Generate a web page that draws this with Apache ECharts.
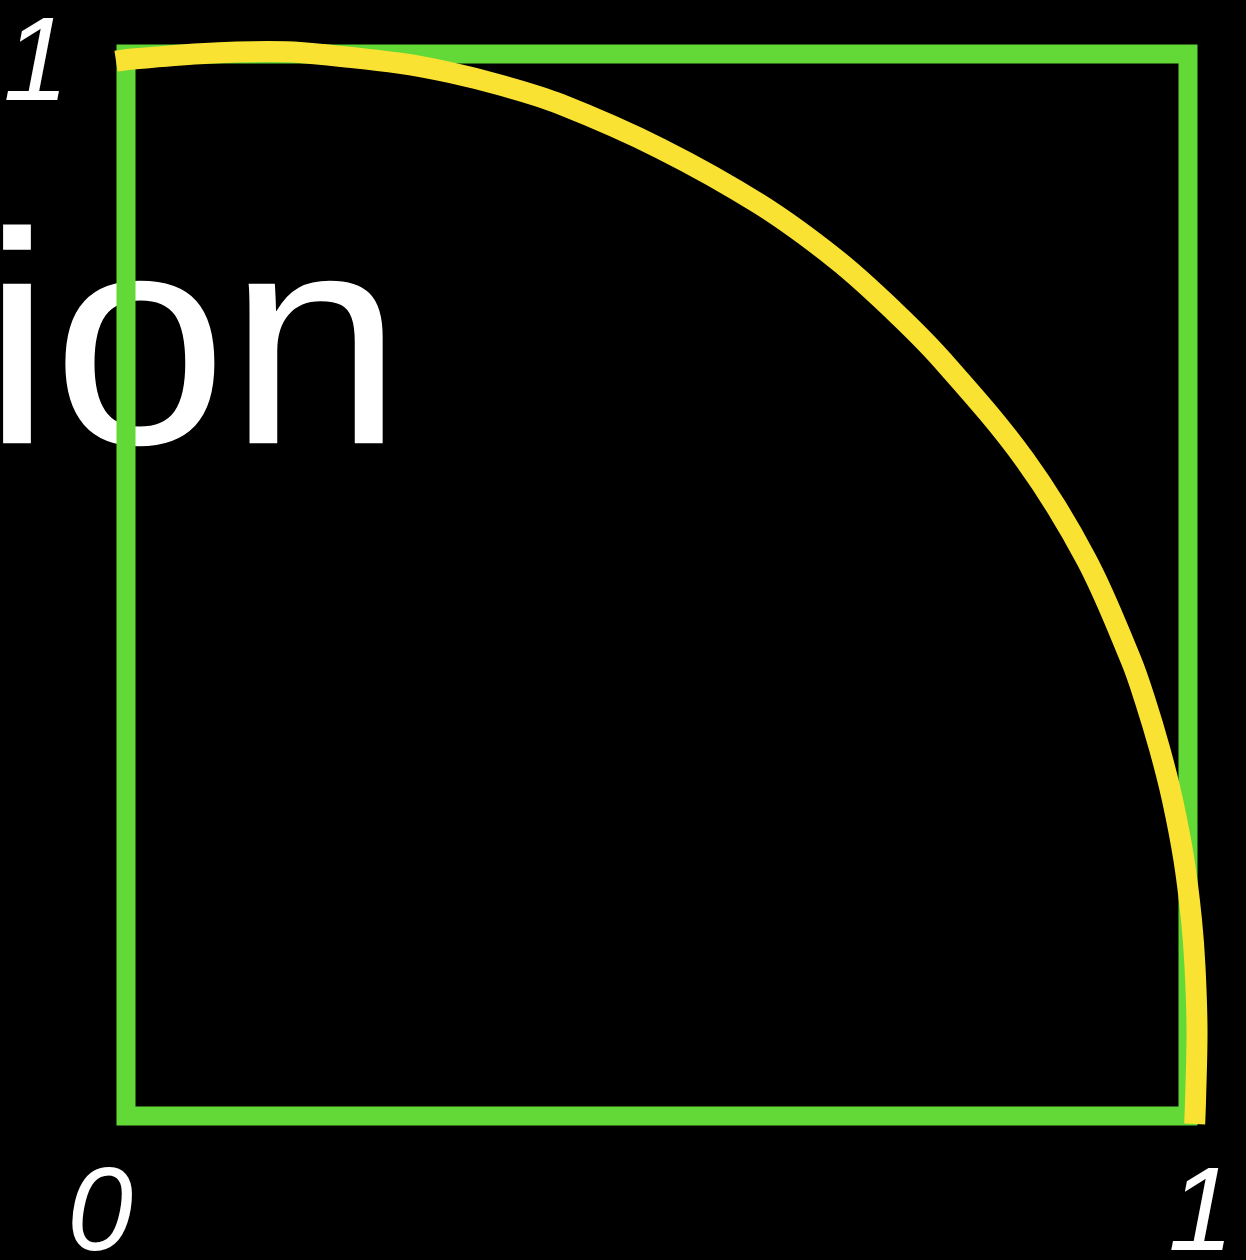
<!DOCTYPE html>
<html>
<head>
<meta charset="utf-8">
<script src="https://cdn.jsdelivr.net/npm/echarts@6/dist/echarts.min.js"></script>
<style>
html,body{margin:0;padding:0;background:#000;}
#chart{width:1246px;height:1260px;}
</style>
</head>
<body>
<div id="chart"></div>
<script>
// Curve (centerline), in unit-square coordinates
const curveX = [-0.0094, 0.0066, 0.0697, 0.1328, 0.1638, 0.2580, 0.3051, 0.3522, 0.4087, 0.5028, 0.5970, 0.6695, 0.7222, 0.7684, 0.8465, 0.9046, 0.9463, 0.9595, 0.9736, 0.9854, 0.9962, 1.0033, 1.0066, 1.0085, 1.0071, 1.0063];
const curveY = [0.9932, 0.9953, 1.0003, 1.0024, 1.0014, 0.9913, 0.9826, 0.9708, 0.9529, 0.9112, 0.8583, 0.8060, 0.7589, 0.7119, 0.6177, 0.5235, 0.4294, 0.3917, 0.3446, 0.2976, 0.2411, 0.1846, 0.1403, 0.0782, 0.0151, -0.0075];
// Unit square frame
const squareX = [0, 1, 1, 0, 0];
const squareY = [0, 0, 1, 1, 0];
const xTickLabels = {0: '0', 1: '1'};
const yTickLabels = {1: '1'};
const backgroundWord = 'ion';

const GREEN = '#62d936';
const YELLOW = '#fae233';
const FONT = 'Liberation Sans';

const curveData = curveX.map((x, i) => [x, curveY[i]]);
const squareData = squareX.map((x, i) => [x, squareY[i]]);

function labelFor(map, v) {
  for (const k in map) { if (Math.abs(v - Number(k)) < 1e-6) return map[k]; }
  return null;
}

const chart = echarts.init(document.getElementById('chart'), null, {renderer: 'canvas'});
chart.setOption({
  backgroundColor: '#000',
  animation: false,
  graphic: [{
    type: 'text',
    z: -10,
    x: -18,
    y: 360,
    scaleX: 1.045,
    style: {
      text: backgroundWord,
      fontSize: 302,
      fontFamily: FONT,
      fill: '#ffffff',
      verticalAlign: 'middle',
      align: 'left'
    }
  }],
  grid: {
    // x range padded by 0.05 on each side so the curve's overshoot is not clipped
    left: 72.9, top: 54, width: 1168.2, height: 1062,
    outerBoundsMode: 'none',
    containLabel: false,
    show: false
  },
  xAxis: {
    type: 'value', min: -0.05, max: 1.05, interval: 0.05,
    axisLine: {show: false}, axisTick: {show: false}, splitLine: {show: false},
    axisLabel: {
      margin: 42,
      color: '#fff',
      fontSize: 118,
      fontStyle: 'italic',
      fontFamily: FONT,
      formatter: function (v) {
        const t = labelFor(xTickLabels, v);
        if (t === null) return '';
        return Math.abs(v) < 1e-6 ? '{l|' + t + '}' : '{r|' + t + '}';
      },
      rich: {
        l: {fontSize: 118, fontStyle: 'italic', fontFamily: FONT, color: '#fff', padding: [0, 52, 0, 0]},
        r: {fontSize: 118, fontStyle: 'italic', fontFamily: FONT, color: '#fff', padding: [0, 0, 0, 26]}
      }
    }
  },
  yAxis: {
    type: 'value', min: 0, max: 1, interval: 1,
    axisLine: {show: false}, axisTick: {show: false}, splitLine: {show: false},
    axisLabel: {
      margin: 4,
      color: '#fff',
      fontSize: 118,
      fontStyle: 'italic',
      fontFamily: FONT,
      formatter: function (v) {
        const t = labelFor(yTickLabels, v);
        return t ? '{t|' + t + '}' : '';
      },
      rich: {
        t: {fontSize: 118, fontStyle: 'italic', fontFamily: FONT, color: '#fff', padding: [26, 0, 0, 0]}
      }
    }
  },
  series: [{
    type: 'line',
    data: squareData,
    showSymbol: false,
    clip: false,
    z: 3,
    lineStyle: {color: GREEN, width: 19, cap: 'square', join: 'miter'}
  }, {
    type: 'line',
    data: curveData,
    showSymbol: false,
    smooth: 0.35,
    clip: false,
    z: 5,
    lineStyle: {color: YELLOW, width: 21, cap: 'butt', join: 'round'}
  }]
});
</script>
</body>
</html>
